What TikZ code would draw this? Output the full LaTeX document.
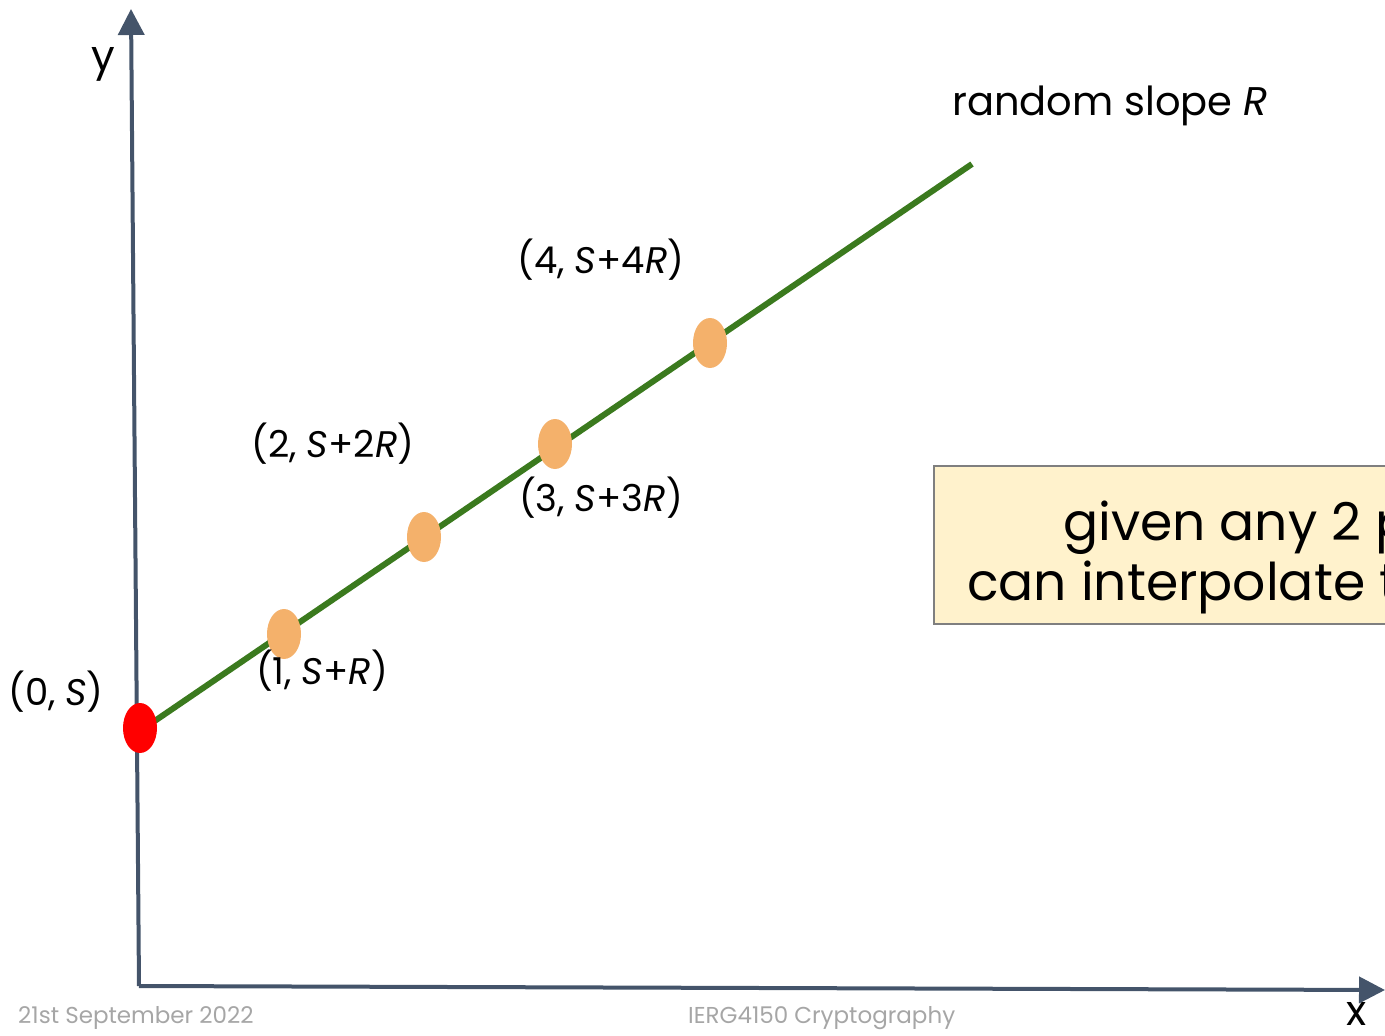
\documentclass[tikz,border=0pt]{standalone}
\usepackage{fontspec}
\setmainfont{Poppins}
\usetikzlibrary{arrows.meta,shapes.geometric}
\definecolor{axiscol}{HTML}{44546A}
\definecolor{linecol}{HTML}{3B7A1E}
\definecolor{dotcol}{HTML}{F4B16B}
\definecolor{boxfill}{HTML}{FFF2CC}
\definecolor{boxline}{HTML}{7F7F7F}
\definecolor{footcol}{HTML}{A6A6A6}
\begin{document}
\begin{tikzpicture}[x=1pt,y=-1pt,
  axis/.style={draw=axiscol,line width=4pt,-{Triangle[length=26pt,width=26pt]}},
  dot/.style={ellipse,fill=dotcol,minimum width=34pt,minimum height=50pt,inner sep=0pt},
  lbl/.style={inner sep=0pt,font=\fontsize{37}{42}\selectfont},
  foot/.style={inner sep=0pt,text=footcol,font=\fontsize{23}{26}\selectfont}]
\useasboundingbox (0,0) rectangle (1385,1036);
% axes
\coordinate (o) at (139,986);
\coordinate (ytip) at (131,9);
\coordinate (xtip) at (1385,990);
\draw[axis] (o) -- (ytip);
\draw[axis] (o) -- (xtip);
\node[inner sep=0pt,font=\fontsize{42}{46}\selectfont] (ylab) at (103,64) {y};
\node[inner sep=0pt,font=\fontsize{42}{46}\selectfont] (xlab) at (1357,1014) {x};
% line
\coordinate (p0c) at (140,731);
\coordinate (lend) at (972,164);
\draw[linecol,line width=6pt] (p0c) -- (lend);
% dots
\node[dot,fill=red] (p0) at (140,728) {};
\node[dot] (p1) at (284,634) {};
\node[dot] (p2) at (424,537) {};
\node[dot] (p3) at (555,444) {};
\node[dot] (p4) at (710,343) {};
% labels
\node[lbl] (l0) at (56,692) {(0, \textit{S})};
\node[lbl] (l1) at (322,671) {(1, \textit{S}+\textit{R})};
\node[lbl] (l2) at (333,444) {(2, \textit{S}+2\textit{R})};
\node[lbl] (l3) at (601,498) {(3, \textit{S}+3\textit{R})};
\node[lbl] (l4) at (601,260) {(4, \textit{S}+4\textit{R})};
\node[inner sep=0pt,anchor=west,font=\fontsize{40}{44}\selectfont] (slope) at (952,106) {random slope \textit{R}};
% box
\begin{scope}
\clip (0,0) rectangle (1385,1036);
\node[draw=boxline,line width=1.5pt,fill=boxfill,anchor=north west,minimum width=500pt,minimum height=158pt,inner sep=0pt] (box) at (933,465) {};
\node[inner sep=0pt,anchor=base west,font=\fontsize{52}{58}\selectfont] (t1) at (1063,540) {given any 2 points};
\node[inner sep=0pt,anchor=base west,font=\fontsize{52}{58}\selectfont] (t2) at (967,600) {can interpolate the line};
\end{scope}
% footer
\node[foot,anchor=west] (date) at (18,1018) {21st September 2022};
\node[foot,anchor=west] (course) at (688,1018) {IERG4150 Cryptography};
\end{tikzpicture}
\end{document}
